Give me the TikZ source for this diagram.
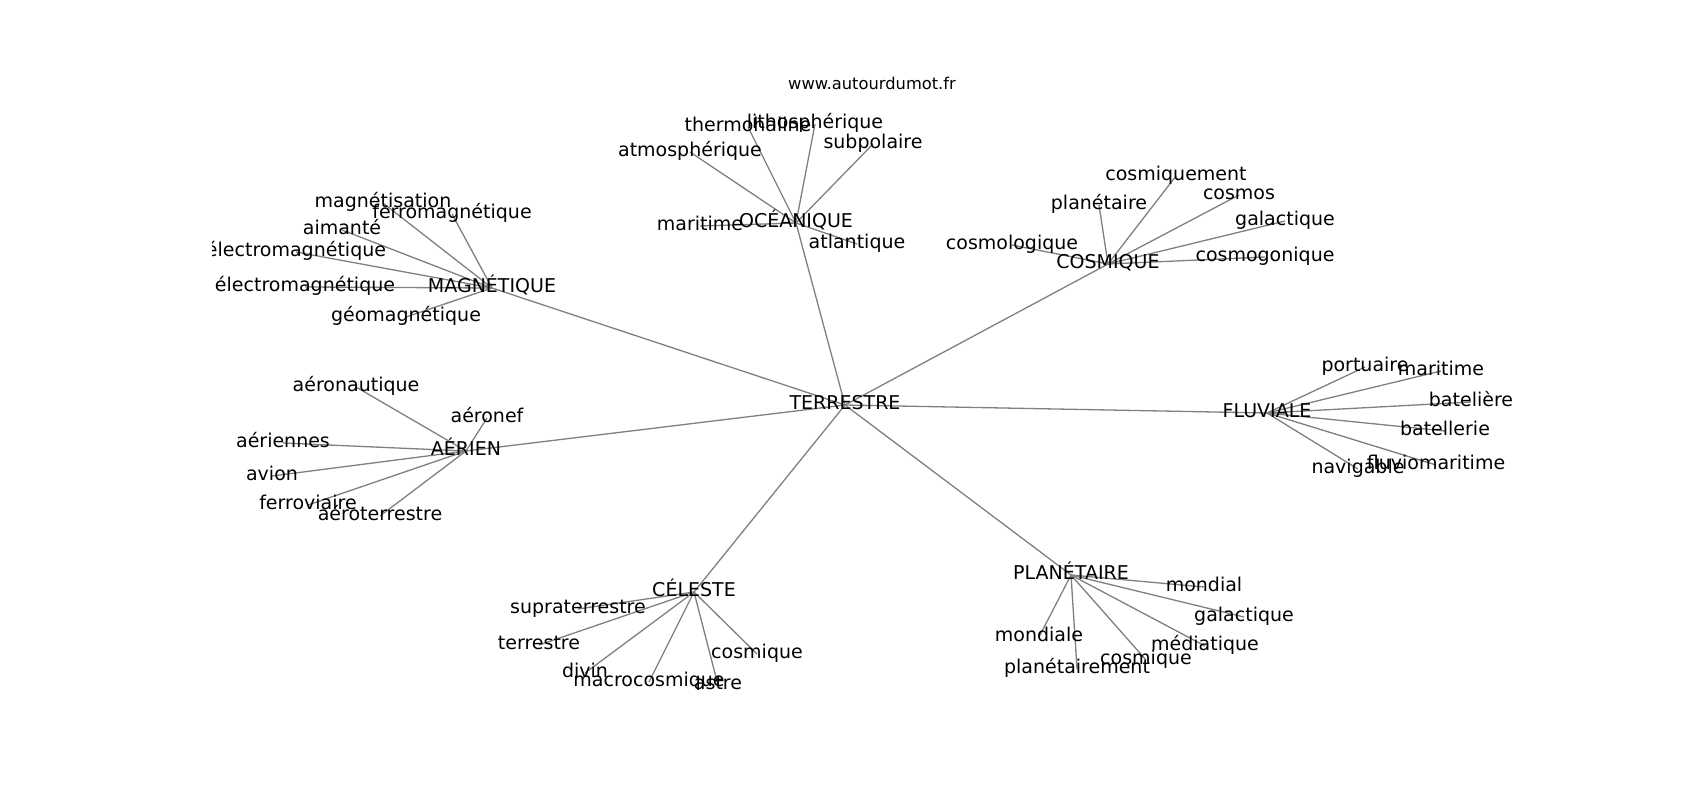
\documentclass[tikz,border=0pt]{standalone}
\usepackage{fontspec}
\setmainfont{DejaVu Sans}
\usetikzlibrary{backgrounds}
\begin{document}
\begin{tikzpicture}[x=1bp,y=-1bp,
  lbl/.style={inner sep=0pt, outer sep=0pt, text height=14.4bp, text depth=4.6bp, font=\fontsize{19bp}{22bp}\selectfont, text=black},
  edge/.style={draw=black!50, line width=1.3bp}]
\useasboundingbox (0,0) rectangle (1700,800);
\node[inner sep=0pt, font=\fontsize{16.3bp}{19bp}\selectfont] (title) at (872,83) {www.autourdumot.fr};
\begin{scope}
\clip (212.5,96) rectangle (1530,712);
% hubs
\node[lbl] (T) at (845,405) {TERRESTRE};
\node[lbl] (M) at (492,288) {MAGNÉTIQUE};
\node[lbl] (O) at (796,223) {OCÉANIQUE};
\node[lbl] (C) at (1108,264) {COSMIQUE};
\node[lbl] (F) at (1267,413) {FLUVIALE};
\node[lbl] (A) at (466,451) {AÉRIEN};
\node[lbl] (L) at (694,592) {CÉLESTE};
\node[lbl] (P) at (1071,575) {PLANÉTAIRE};
% magnetique
\node[lbl] (m1) at (383,203) {magnétisation};
\node[lbl] (m2) at (452,214) {ferromagnétique};
\node[lbl] (m3) at (342,230) {aimanté};
\node[lbl] (m4) at (296,252) {électromagnétique};
\node[lbl] (m5) at (305,287) {électromagnétique};
\node[lbl] (m6) at (406,317) {géomagnétique};
% oceanique
\node[lbl] (o1) at (748,127) {thermohaline};
\node[lbl] (o2) at (815,124) {lithosphérique};
\node[lbl] (o3) at (873,144) {subpolaire};
\node[lbl] (o4) at (690,152) {atmosphérique};
\node[lbl] (o5) at (700,226) {maritime};
\node[lbl] (o6) at (857,244) {atlantique};
% cosmique
\node[lbl] (c1) at (1176,176) {cosmiquement};
\node[lbl] (c2) at (1239,195) {cosmos};
\node[lbl] (c3) at (1099,205) {planétaire};
\node[lbl] (c4) at (1285,221) {galactique};
\node[lbl] (c5) at (1012,245) {cosmologique};
\node[lbl] (c6) at (1265,257) {cosmogonique};
% fluviale
\node[lbl] (f1) at (1365,367) {portuaire};
\node[lbl] (f2) at (1441,371) {maritime};
\node[lbl] (f3) at (1471,402) {batelière};
\node[lbl] (f4) at (1445,431) {batellerie};
\node[lbl] (f5) at (1358,469) {navigable};
\node[lbl] (f6) at (1436,465) {fluviomaritime};
% aerien
\node[lbl] (a1) at (356,387) {aéronautique};
\node[lbl] (a2) at (487,418) {aéronef};
\node[lbl] (a3) at (283,443) {aériennes};
\node[lbl] (a4) at (272,476) {avion};
\node[lbl] (a5) at (308,505) {ferroviaire};
\node[lbl] (a6) at (380,516) {aéroterrestre};
% celeste
\node[lbl] (l1) at (578,609) {supraterrestre};
\node[lbl] (l2) at (539,645) {terrestre};
\node[lbl] (l3) at (757,654) {cosmique};
\node[lbl] (l4) at (585,673) {divin};
\node[lbl] (l5) at (649,682) {macrocosmique};
\node[lbl] (l6) at (718,685) {astre};
% planetaire
\node[lbl] (p1) at (1204,587) {mondial};
\node[lbl] (p2) at (1244,617) {galactique};
\node[lbl] (p3) at (1039,637) {mondiale};
\node[lbl] (p4) at (1205,646) {médiatique};
\node[lbl] (p5) at (1146,660) {cosmique};
\node[lbl] (p6) at (1077,669) {planétairement};
\end{scope}
\begin{scope}[on background layer]
\fill[white] (0,0) rectangle (1700,800);
\foreach \h in {M,O,C,F,A,L,P} \draw[edge] (T.center) -- (\h.center);
\foreach \i in {1,...,6} {
  \draw[edge] (M.center) -- (m\i.center);
  \draw[edge] (O.center) -- (o\i.center);
  \draw[edge] (C.center) -- (c\i.center);
  \draw[edge] (F.center) -- (f\i.center);
  \draw[edge] (A.center) -- (a\i.center);
  \draw[edge] (L.center) -- (l\i.center);
  \draw[edge] (P.center) -- (p\i.center);
}
\end{scope}
\end{tikzpicture}
\end{document}
